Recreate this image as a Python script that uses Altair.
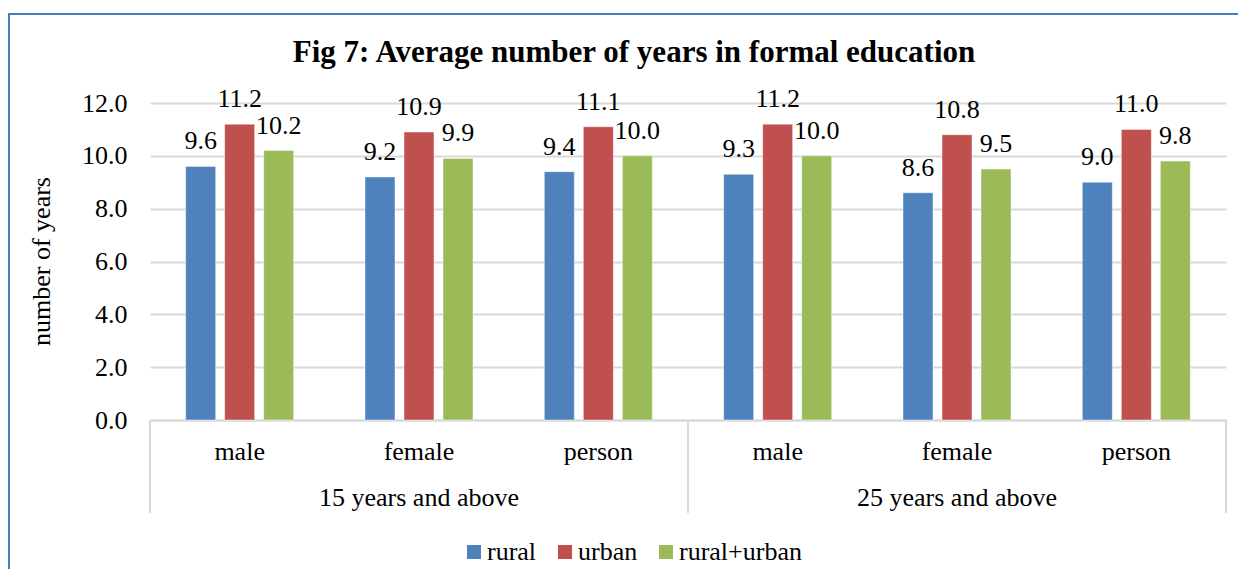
import altair as alt
import pandas as pd

title_text = "Fig 7: Average number of years in formal education"
y_title = "number of years"
age_groups = ["15 years and above", "25 years and above"]
sexes = ["male", "female", "person"]
areas = ["rural", "urban", "rural+urban"]
rural = [9.6, 9.2, 9.4, 9.3, 8.6, 9.0]
urban = [11.2, 10.9, 11.1, 11.2, 10.8, 11.0]
rural_urban = [10.2, 9.9, 10.0, 10.0, 9.5, 9.8]
colors = ["#4F81BD", "#C0504D", "#9BBB59"]

FONT = "Liberation Serif"
W, H = 1076, 317

cats, cat_rows = [], []
for g in age_groups:
    for s in sexes:
        key = g + "|" + s
        cats.append(key)
        cat_rows.append({"cat": key, "sex": s, "group": g})
cat_df = pd.DataFrame(cat_rows)

rows = []
for i, key in enumerate(cats):
    for a, series in zip(areas, [rural, urban, rural_urban]):
        rows.append({"cat": key, "area": a, "value": series[i]})
df = pd.DataFrame(rows)

x_cat = alt.X("cat:N", sort=cats,
              scale=alt.Scale(domain=cats, paddingInner=0, paddingOuter=0),
              axis=alt.Axis(title=None, labels=False, ticks=False, tickSize=0,
                            domain=True, domainColor="#d9d9d9", domainWidth=2, grid=False))
x_off = alt.XOffset("area:N", sort=areas,
                    scale=alt.Scale(domain=areas, paddingInner=0.2308, paddingOuter=0.914))
y_val = alt.Y("value:Q",
              scale=alt.Scale(domain=[0, 12], nice=False),
              axis=alt.Axis(title=None, values=[0, 2, 4, 6, 8, 10, 12], format=".1f",
                            ticks=False, tickSize=0, domain=False, labelPadding=23,
                            labelFont=FONT, labelFontSize=26, labelColor="black",
                            gridColor="#d9d9d9", gridWidth=2))

bars = alt.Chart(df).mark_bar(size=30, stroke="white", strokeOpacity=0.45, strokeWidth=1).encode(
    x=x_cat, xOffset=x_off, y=y_val,
    color=alt.Color("area:N", sort=areas,
                    scale=alt.Scale(domain=areas, range=colors),
                    legend=alt.Legend(title=None, orient="none", legendX=311, legendY=436,
                                      direction="horizontal", symbolType="square",
                                      symbolSize=196, symbolStrokeWidth=0,
                                      labelFont=FONT, labelFontSize=26, labelColor="black",
                                      labelOffset=0, columnPadding=15)),
)
values = alt.Chart(df).mark_text(font=FONT, fontSize=26, color="black",
                                 baseline="alphabetic", dy=-17).encode(
    x=x_cat, xOffset=x_off, y=y_val,
    text=alt.Text("value:Q", format=".1f"),
)
sex_labels = alt.Chart(cat_df).mark_text(font=FONT, fontSize=26, color="black",
                                         baseline="middle").encode(
    x=x_cat, y=alt.value(H + 32), text="sex:N",
)
inner = alt.layer(bars, values, sex_labels)

grp_df = pd.DataFrame({"group": age_groups})
x_grp = alt.X("group:N", sort=age_groups,
              scale=alt.Scale(domain=age_groups, paddingInner=0, paddingOuter=0),
              axis=None)
grp_labels = alt.Chart(grp_df).mark_text(font=FONT, fontSize=26, color="black",
                                         baseline="middle").encode(
    x=x_grp, y=alt.value(H + 78), text="group:N",
)
rule_l = alt.Chart(grp_df).mark_rule(color="#d9d9d9", strokeWidth=2).encode(
    x=alt.X("group:N", sort=age_groups, bandPosition=0,
            scale=alt.Scale(domain=age_groups, paddingInner=0, paddingOuter=0), axis=None),
    y=alt.value(H), y2=alt.value(H + 93),
)
rule_r = alt.Chart(grp_df).mark_rule(color="#d9d9d9", strokeWidth=2).encode(
    x=alt.X("group:N", sort=age_groups, bandPosition=1,
            scale=alt.Scale(domain=age_groups, paddingInner=0, paddingOuter=0), axis=None),
    y=alt.value(H), y2=alt.value(H + 93),
)
groups = alt.layer(grp_labels, rule_l, rule_r)

one = pd.DataFrame({"t": [title_text], "yt": [y_title]})
border = alt.Chart(one).mark_rect(fill="transparent", stroke="#4A7EBB", strokeWidth=2).encode(
    x=alt.value(-141), x2=alt.value(3000), y=alt.value(-89), y2=alt.value(3000),
)
title = alt.Chart(one).mark_text(font=FONT, fontSize=31, fontWeight="bold", color="black",
                                 baseline="middle", align="center").encode(
    x=alt.value(484), y=alt.value(-50), text="t:N",
)
ytitle = alt.Chart(one).mark_text(font=FONT, fontSize=26, color="black", angle=270,
                                  baseline="middle", align="center").encode(
    x=alt.value(-108), y=alt.value(H / 2), text="yt:N",
)

chart = alt.layer(border, inner, groups, title, ytitle).resolve_scale(
    x="independent"
).properties(
    width=W, height=H, autosize="none",
    padding={"left": 142, "top": 95, "right": 12, "bottom": 149},
).configure(font=FONT).configure_view(stroke=None)

chart.save("out.html", embed_options={"renderer": "svg", "actions": False})
